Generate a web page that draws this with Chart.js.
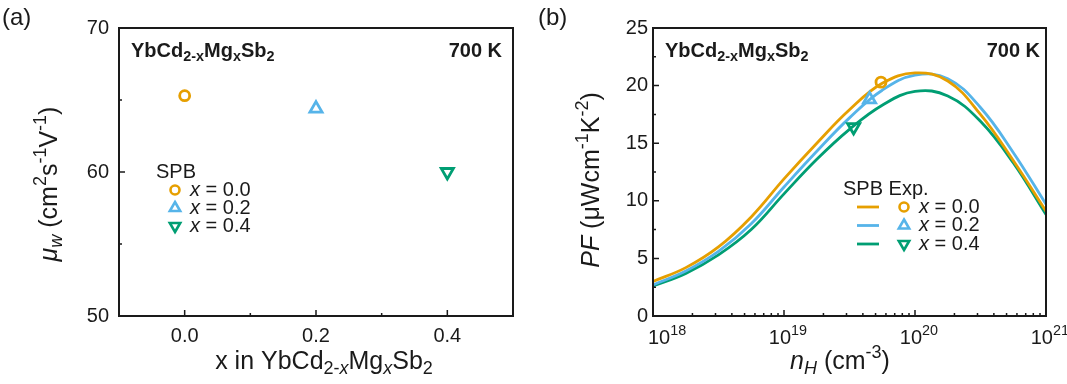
<!DOCTYPE html>
<html>
<head>
<meta charset="utf-8">
<script src="https://cdn.jsdelivr.net/npm/chart.js@4.4.0/dist/chart.umd.min.js"></script>
<style>
  body { margin: 0; background: #fff; }
  #wrap { position: relative; width: 1067px; height: 384px; }
  canvas { position: absolute; top: 0; }
</style>
</head>
<body>
<div id="wrap">
  <canvas id="chartA" width="533" height="384" style="left:0"></canvas>
  <canvas id="chartB" width="534" height="384" style="left:533px"></canvas>
</div>
<script>
// panel (a): weighted mobility vs composition
const compX = [0.0, 0.2, 0.4];
const muW = [65.3, 64.4, 60.0];
const compLabels = ['0.0', '0.2', '0.4'];

// panel (b): SPB curves of PF vs n_H (quarter-decade steps), and the experimental points
const nH = [1e18, 1.78e18, 3.16e18, 5.62e18, 1e19, 1.78e19, 3.16e19, 5.62e19, 1e20, 1.78e20, 3.16e20, 5.62e20, 1e21];
const pfX00 = [3.0, 4.2, 6.0, 8.6, 11.9, 15.0, 17.9, 20.2, 21.1, 20.4, 17.5, 13.5, 9.1];
const pfX02 = [2.7, 3.9, 5.6, 8.0, 11.2, 14.3, 17.2, 19.6, 20.9, 20.6, 18.1, 14.2, 9.7];
const pfX04 = [2.6, 3.7, 5.3, 7.5, 10.6, 13.6, 16.2, 18.3, 19.5, 19.1, 16.9, 13.3, 8.8];
const expN = [5.5e19, 4.5e19, 3.4e19];
const expPF = [20.3, 18.8, 16.4];

// ticks
const muTicks = [50, 60, 70];
const muMinor = [55, 65];
const compTicks = [0.0, 0.2, 0.4];
const compMinor = [0.1, 0.3];
const pfTicks = [0, 5, 10, 15, 20, 25];
const pfMinor = [2.5, 7.5, 12.5, 17.5, 22.5];
const nTicks = [1e18, 1e19, 1e20, 1e21];
const nTickExp = ['18', '19', '20', '21'];

const colors = ['#E69F00', '#56B4E9', '#009E73'];
const styles = ['circle', 'triangle', 'triangle'];
const rots = [0, 0, 180];
const FONT = '"Liberation Sans", Arial, sans-serif';
const INK = '#1a1a1a';

function measure(ctx, parts, size) {
  return parts.map(([t, f = '']) => {
    const small = f.includes('_') || f.includes('^');
    const fs = small ? size * 0.72 : size;
    const font = (f.includes('i') ? 'italic ' : '') + (f.includes('b') ? 'bold ' : '') + fs + 'px ' + FONT;
    ctx.font = font;
    const dy = f.includes('_') ? size * 0.28 : f.includes('^') ? -size * 0.36 : 0;
    return { t, font, dy, w: ctx.measureText(t).width };
  });
}

function rich(ctx, parts, x, y, size, align) {
  const seg = measure(ctx, parts, size);
  const total = seg.reduce((s, p) => s + p.w, 0);
  let cx = align === 'center' ? x - total / 2 : align === 'right' ? x - total : x;
  ctx.textAlign = 'left';
  ctx.textBaseline = 'middle';
  seg.forEach(p => { ctx.font = p.font; ctx.fillText(p.t, cx, y + p.dy); cx += p.w; });
}

function marker(ctx, style, rot, x, y, r, color) {
  ctx.save();
  ctx.strokeStyle = color;
  ctx.lineWidth = 2.6;
  ctx.beginPath();
  if (style === 'circle') {
    ctx.arc(x, y, r, 0, Math.PI * 2);
  } else {
    const s = rot ? -1 : 1, h = r * Math.sin(Math.PI / 3);
    ctx.moveTo(x, y - s * r);
    ctx.lineTo(x + h, y + s * r / 2);
    ctx.lineTo(x - h, y + s * r / 2);
    ctx.closePath();
  }
  ctx.stroke();
  ctx.restore();
}

function frameAndTicks(chart, xMaj, xMin, yMaj, yMin) {
  const { ctx, chartArea: a } = chart;
  const xs = chart.scales.x, ys = chart.scales.y;
  ctx.save();
  ctx.strokeStyle = INK;
  ctx.lineWidth = 1.5;
  ctx.beginPath();
  xMaj.forEach(v => { const p = xs.getPixelForValue(v); ctx.moveTo(p, a.bottom); ctx.lineTo(p, a.bottom - 6); });
  xMin.forEach(v => { const p = xs.getPixelForValue(v); ctx.moveTo(p, a.bottom); ctx.lineTo(p, a.bottom - 3); });
  yMaj.forEach(v => { const p = ys.getPixelForValue(v); ctx.moveTo(a.left, p); ctx.lineTo(a.left + 6, p); });
  yMin.forEach(v => { const p = ys.getPixelForValue(v); ctx.moveTo(a.left, p); ctx.lineTo(a.left + 3, p); });
  ctx.stroke();
  ctx.lineWidth = 2;
  ctx.strokeRect(a.left, a.top, a.right - a.left, a.bottom - a.top);
  ctx.restore();
}

const compound = [['YbCd', 'b'], ['2-x', 'b_'], ['Mg', 'b'], ['x', 'b_'], ['Sb', 'b'], ['2', 'b_']];

const decoA = {
  id: 'decoA',
  afterDraw(chart) {
    const { ctx, chartArea: a } = chart;
    frameAndTicks(chart, compTicks, compMinor, muTicks, muMinor);
    ctx.save();
    ctx.fillStyle = INK;
    rich(ctx, [['(a)']], 2, 18, 24, 'left');
    rich(ctx, compound, a.left + 12, 51, 20, 'left');
    rich(ctx, [['700 K', 'b']], a.right - 11, 51, 20, 'right');
    rich(ctx, [['x in YbCd'], ['2-', '_'], ['x', 'i_'], ['Mg'], ['x', 'i_'], ['Sb'], ['2', '_']], 324, 362, 25, 'center');
    ctx.save();
    ctx.translate(50, 184);
    ctx.rotate(-Math.PI / 2);
    rich(ctx, [['\u03bc', 'i'], ['w', 'i_'], [' (cm'], ['2', '^'], ['s'], ['-1', '^'], ['V'], ['-1', '^'], [')']], 0, 0, 25, 'center');
    ctx.restore();
    // legend
    rich(ctx, [['SPB']], 156, 172, 20, 'left');
    compLabels.forEach((lab, i) => {
      const y = 190 + i * 18;
      marker(ctx, styles[i], rots[i], 175, y, i === 0 ? 4.5 : 6, colors[i]);
      rich(ctx, [['x', 'i'], [' = ' + lab]], 190, y, 20, 'left');
    });
    ctx.restore();
  }
};

const decoB = {
  id: 'decoB',
  afterDraw(chart) {
    const { ctx, chartArea: a } = chart;
    const xs = chart.scales.x;
    frameAndTicks(chart, nTicks, [], pfTicks, pfMinor);
    ctx.save();
    ctx.strokeStyle = INK;
    ctx.lineWidth = 1.5;
    ctx.beginPath();
    for (let e = 18; e < 21; e++) {
      for (let m = 2; m <= 9; m++) {
        const p = xs.getPixelForValue(m * Math.pow(10, e));
        ctx.moveTo(p, a.bottom); ctx.lineTo(p, a.bottom - 3);
      }
    }
    ctx.stroke();
    ctx.fillStyle = INK;
    nTicks.forEach((v, i) => {
      const p = xs.getPixelForValue(v);
      const parts = [['10'], [nTickExp[i], '^']];
      const total = measure(ctx, parts, 20).reduce((s, q) => s + q.w, 0);
      let x = p - total / 2 + 4;
      x = Math.max(x, a.left - 5);
      x = Math.min(x, chart.width - total + 2);
      rich(ctx, parts, x, 338, 20, 'left');
    });
    rich(ctx, [['(b)']], 5, 18, 24, 'left');
    rich(ctx, compound, a.left + 12, 51, 20, 'left');
    rich(ctx, [['700 K', 'b']], a.right - 6, 51, 20, 'right');
    rich(ctx, [['n', 'i'], ['H', 'i_'], [' (cm'], ['-3', '^'], [')']], 307, 362, 25, 'center');
    ctx.save();
    ctx.translate(59, 180);
    ctx.rotate(-Math.PI / 2);
    rich(ctx, [['PF', 'i'], [' (\u03bcWcm'], ['-1', '^'], ['K'], ['-2', '^'], [')']], 0, 0, 25, 'center');
    ctx.restore();
    // legend
    rich(ctx, [['SPB Exp.']], 310, 189, 20, 'left');
    compLabels.forEach((lab, i) => {
      const y = 207 + i * 18.5;
      ctx.save();
      ctx.strokeStyle = colors[i];
      ctx.lineWidth = 2.8;
      ctx.beginPath(); ctx.moveTo(324, y); ctx.lineTo(346, y); ctx.stroke();
      ctx.restore();
      marker(ctx, styles[i], rots[i], 371, y, i === 0 ? 4.5 : 6, colors[i]);
      rich(ctx, [['x', 'i'], [' = ' + lab]], 386, y, 20, 'left');
    });
    ctx.restore();
  }
};

function axisCommon(extra) {
  return Object.assign({
    grid: { display: false, drawTicks: false },
    border: { display: false }
  }, extra);
}

new Chart(document.getElementById('chartA'), {
  type: 'scatter',
  data: {
    datasets: compX.map((x, i) => ({
      label: 'x = ' + compLabels[i],
      data: [{ x: x, y: muW[i] }],
      pointStyle: styles[i],
      rotation: rots[i],
      pointRadius: i === 0 ? 5 : 7,
      borderColor: colors[i],
      backgroundColor: 'rgba(0,0,0,0)',
      borderWidth: 2.8
    }))
  },
  options: {
    responsive: false,
    animation: false,
    events: [],
    layout: { padding: { left: 0, right: 20, top: 28, bottom: 0 } },
    plugins: { legend: { display: false }, tooltip: { enabled: false } },
    scales: {
      x: axisCommon({
        min: -0.1, max: 0.5,
        afterBuildTicks: s => { s.ticks = compTicks.map(v => ({ value: v })); },
        afterFit: s => { s.height = 68; },
        ticks: { color: INK, font: { family: FONT, size: 20 }, padding: 8, callback: v => Number(v).toFixed(1), maxRotation: 0, autoSkip: false }
      }),
      y: axisCommon({
        min: 50, max: 70,
        afterBuildTicks: s => { s.ticks = muTicks.map(v => ({ value: v })); },
        afterFit: s => { s.width = 119; },
        ticks: { color: INK, font: { family: FONT, size: 20 }, padding: 10 }
      })
    }
  },
  plugins: [decoA]
});

const curves = [pfX00, pfX02, pfX04];
new Chart(document.getElementById('chartB'), {
  type: 'scatter',
  data: {
    datasets: expN.map((n, i) => ({
      label: 'Exp. x = ' + compLabels[i],
      data: [{ x: n, y: expPF[i] }],
      pointStyle: styles[i],
      rotation: rots[i],
      pointRadius: i === 0 ? 5 : 7,
      borderColor: colors[i],
      backgroundColor: 'rgba(0,0,0,0)',
      borderWidth: 2.8
    })).concat(curves.map((pf, i) => ({
      label: 'SPB x = ' + compLabels[i],
      data: nH.map((n, k) => ({ x: n, y: pf[k] })),
      showLine: true,
      tension: 0.4,
      pointRadius: 0,
      borderColor: colors[i],
      borderWidth: 2.8
    })))
  },
  options: {
    responsive: false,
    animation: false,
    events: [],
    layout: { padding: { left: 0, right: 21, top: 28, bottom: 0 } },
    plugins: { legend: { display: false }, tooltip: { enabled: false } },
    scales: {
      x: axisCommon({
        type: 'logarithmic',
        min: 1e18, max: 1e21,
        afterBuildTicks: s => { s.ticks = nTicks.map(v => ({ value: v })); },
        afterFit: s => { s.height = 68; },
        ticks: { display: false }
      }),
      y: axisCommon({
        min: 0, max: 25,
        afterBuildTicks: s => { s.ticks = pfTicks.map(v => ({ value: v })); },
        afterFit: s => { s.width = 120; },
        ticks: { color: INK, font: { family: FONT, size: 20 }, padding: 5 }
      })
    }
  },
  plugins: [decoB]
});
</script>
</body>
</html>
